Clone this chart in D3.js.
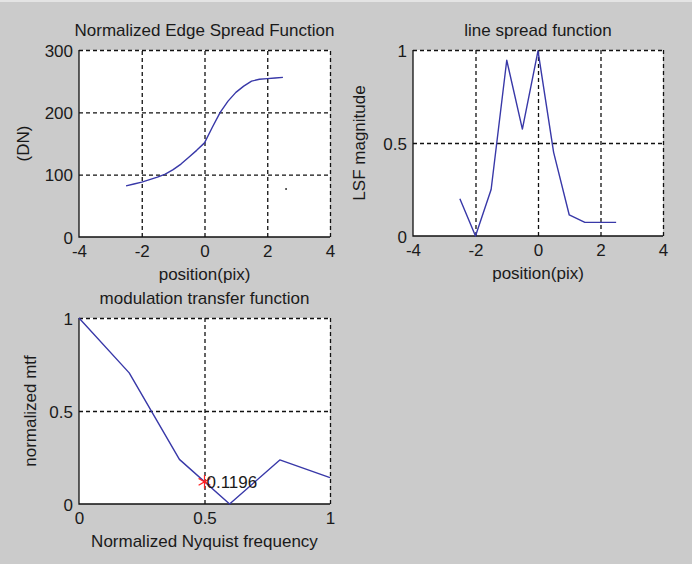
<!DOCTYPE html>
<html>
<head>
<meta charset="utf-8">
<script src="https://cdn.jsdelivr.net/npm/d3@7"></script>
<style>
html,body{margin:0;padding:0;background:#cbcbcb;}
svg{display:block;}
text{font-family:"Liberation Sans",Arial,sans-serif;fill:#1a1a1a;}
</style>
</head>
<body>
<svg id="chart" width="692" height="564"></svg>
<script>
// ---- data ----
const esfX = [-2.5,-2.25,-2,-1.75,-1.5,-1.25,-1,-0.75,-0.5,-0.25,0,0.25,0.5,0.75,1,1.25,1.5,1.75,2,2.25,2.5];
const esfY = [82,85,88,92,96,101,108,117,128,139,151,176,200,218,232,242,250,253,254,255,256];
const esfDot = [2.6, 77];

const lsfX = [-2.5,-2,-1.5,-1,-0.5,0,0.5,1,1.5,2,2.5];
const lsfY = [0.2,0,0.25,0.945,0.575,0.995,0.45,0.113,0.073,0.073,0.073];

const mtfX = [0,0.2,0.4,0.6,0.8,1.0];
const mtfY = [1,0.705,0.24,0,0.237,0.142];
const mtfMark = [0.5, 0.1196];
const mtfMarkLabel = "0.1196";

const esfXTicks = [-4,-2,0,2,4], esfYTicks = [0,100,200,300];
const lsfXTicks = [-4,-2,0,2,4], lsfYTicks = [0,0.5,1];
const mtfXTicks = [0,0.5,1], mtfYTicks = [0,0.5,1];

// ---- drawing ----
const svg = d3.select("#chart");
svg.append("line").attr("x1",0).attr("x2",692).attr("y1",1).attr("y2",1)
  .attr("stroke","#e4e4e4").attr("stroke-width",2);

const FS = 17;
const lineColor = "#3838a8";
const fmt = d => String(d);

function panel(o){
  const x = d3.scaleLinear().domain(o.xd).range([o.l,o.r]);
  const y = d3.scaleLinear().domain(o.yd).range([o.b,o.t]);
  const g = svg.append("g");
  g.append("rect").attr("x",o.l).attr("y",o.t).attr("width",o.r-o.l).attr("height",o.b-o.t).attr("fill","#fff");
  // grid
  const gx = g.append("g").attr("transform",`translate(0,${o.b})`)
    .call(d3.axisBottom(x).tickValues(o.xt).tickSize(-(o.b-o.t)).tickFormat(""));
  gx.select(".domain").remove();
  gx.selectAll(".tick line").attr("stroke","#111").attr("stroke-width",1.3).attr("stroke-dasharray","4,3");
  gx.selectAll(".tick").filter(d=>d===o.xd[0]).remove();
  const gy = g.append("g").attr("transform",`translate(${o.l},0)`)
    .call(d3.axisLeft(y).tickValues(o.yt).tickSize(-(o.r-o.l)).tickFormat(""));
  gy.select(".domain").remove();
  gy.selectAll(".tick line").attr("stroke","#111").attr("stroke-width",1.3).attr("stroke-dasharray","4,3");
  gy.selectAll(".tick").filter(d=>d===o.yd[0]).remove();
  // solid left/bottom
  g.append("path").attr("d",`M${o.l},${o.t}V${o.b}H${o.r}`).attr("fill","none").attr("stroke","#111").attr("stroke-width",1.3);
  // tick labels
  const ax = g.append("g").attr("transform",`translate(0,${o.b})`)
    .call(d3.axisBottom(x).tickValues(o.xt).tickSize(0).tickPadding(0).tickFormat(fmt));
  ax.select(".domain").remove();
  ax.selectAll("text").attr("y",20).attr("dy",null).attr("font-size",FS).attr("font-family",null).attr("fill",null);
  const ay = g.append("g").attr("transform",`translate(${o.l},0)`)
    .call(d3.axisLeft(y).tickValues(o.yt).tickSize(0).tickPadding(0).tickFormat(fmt));
  ay.select(".domain").remove();
  ay.selectAll("text").attr("x",-6).attr("dy","0.36em").attr("font-size",FS).attr("font-family",null).attr("fill",null);
  // titles
  g.append("text").attr("x",(o.l+o.r)/2).attr("y",o.t-14).attr("text-anchor","middle").attr("font-size",FS).text(o.title);
  g.append("text").attr("x",(o.l+o.r)/2).attr("y",o.b+43).attr("text-anchor","middle").attr("font-size",FS).text(o.xl);
  g.append("text").attr("transform",`translate(${o.ylx},${(o.t+o.b)/2}) rotate(-90)`).attr("text-anchor","middle").attr("font-size",FS).text(o.yl);
  // line
  const line = d3.line().x(d=>x(d[0])).y(d=>y(d[1]));
  g.append("path").datum(o.xs.map((v,i)=>[v,o.ys[i]])).attr("d",line)
    .attr("fill","none").attr("stroke",lineColor).attr("stroke-width",1.4).attr("stroke-linejoin","round");
  return {g,x,y};
}

const p1 = panel({l:79,r:330,t:50,b:237,xd:[-4,4],yd:[0,300],xt:esfXTicks,yt:esfYTicks,
  title:"Normalized Edge Spread Function",xl:"position(pix)",yl:"(DN)",ylx:29,xs:esfX,ys:esfY});
p1.g.append("circle").attr("cx",p1.x(esfDot[0])).attr("cy",p1.y(esfDot[1])).attr("r",1).attr("fill","#333");

const p2 = panel({l:413,r:663,t:50,b:236,xd:[-4,4],yd:[0,1],xt:lsfXTicks,yt:lsfYTicks,
  title:"line spread function",xl:"position(pix)",yl:"LSF magnitude",ylx:365,xs:lsfX,ys:lsfY});

const p3 = panel({l:79,r:330,t:318,b:504,xd:[0,1],yd:[0,1],xt:mtfXTicks,yt:mtfYTicks,
  title:"modulation transfer function",xl:"Normalized Nyquist frequency",yl:"normalized mtf",ylx:36,xs:mtfX,ys:mtfY});
const mx = p3.x(mtfMark[0]), my = p3.y(mtfMark[1]);
p3.g.append("path").attr("d",d3.symbol(d3.symbolAsterisk,130)()).attr("transform",`translate(${mx},${my})`)
  .attr("fill","none").attr("stroke","#ff2020").attr("stroke-width",1.2);
p3.g.append("text").attr("x",mx+2).attr("y",my+6).attr("font-size",FS).attr("fill","#333").text(mtfMarkLabel);
</script>
</body>
</html>
